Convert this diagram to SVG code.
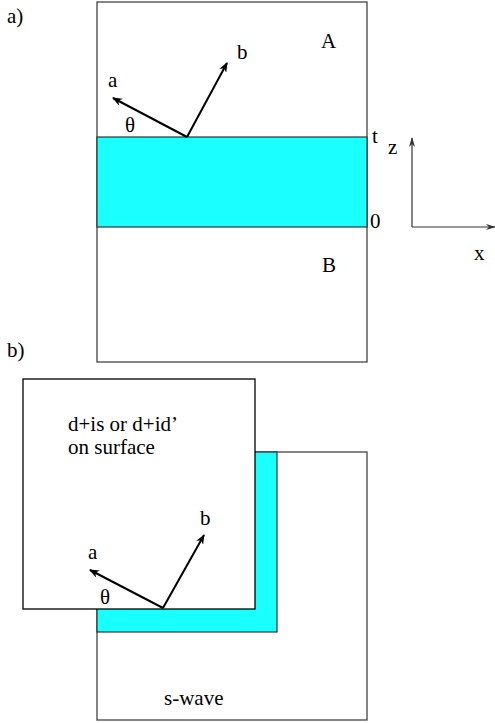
<svg xmlns="http://www.w3.org/2000/svg" width="495" height="723" viewBox="0 0 495 723">
<defs>
<marker id="ah" markerWidth="10" markerHeight="8" refX="9" refY="4" orient="auto" markerUnits="userSpaceOnUse">
<path d="M0,0 L10,4 L0,8 L3,4 z" fill="#000"/>
</marker>
<marker id="ah2" markerWidth="10" markerHeight="8" refX="9" refY="4" orient="auto" markerUnits="userSpaceOnUse">
<path d="M0,1 L10,4 L0,7 L3,4 z" fill="#333"/>
</marker>
</defs>
<g font-family="'Liberation Serif', 'Nimbus Roman', 'Nimbus Roman No9 L', FreeSerif, Times, 'Noto Serif', 'DejaVu Serif', serif" font-size="21" fill="#000">
<text x="7" y="23">a)</text>
<text x="7" y="357">b)</text>
<g id="panelA">
<rect x="97" y="2" width="270" height="360" fill="#fff" stroke="#444" stroke-width="1.3"/>
<rect x="97" y="137" width="270" height="90" fill="#1affff" stroke="#333" stroke-width="1.2"/>
<text x="321" y="48">A</text>
<text x="322" y="272">B</text>
<text x="372" y="143">t</text>
<text x="370" y="228">0</text>
<text x="108" y="87">a</text>
<text x="237" y="59">b</text>
<text x="125" y="132">θ</text>
</g>
<g id="axes">
<text x="388" y="154">z</text>
<text x="474" y="260">x</text>
</g>
<g id="panelB">
<rect x="97" y="452" width="270" height="268" fill="#fff" stroke="#444" stroke-width="1.3"/>
<rect x="97" y="452" width="180" height="180" fill="#1affff" stroke="#333" stroke-width="1.2"/>
<rect x="23" y="379" width="232" height="230" fill="#fff" stroke="#000" stroke-width="1.3"/>
<text x="68" y="431">d+is or d+id’</text>
<text x="68" y="454">on surface</text>
<text x="88" y="559">a</text>
<text x="200" y="525">b</text>
<text x="100" y="604">θ</text>
<text x="164" y="705">s-wave</text>
</g>
</g>
<g id="connectors" fill="none">
<line x1="187" y1="137" x2="113" y2="98" stroke="#000" stroke-width="2" marker-end="url(#ah)"/>
<line x1="187" y1="137" x2="227" y2="63" stroke="#000" stroke-width="2" marker-end="url(#ah)"/>
<line x1="412" y1="227" x2="412" y2="138" stroke="#333" stroke-width="1.2" marker-end="url(#ah2)"/>
<line x1="412" y1="227" x2="495" y2="227" stroke="#333" stroke-width="1.2" marker-end="url(#ah2)"/>
<line x1="163" y1="608" x2="90" y2="570" stroke="#000" stroke-width="2" marker-end="url(#ah)"/>
<line x1="163" y1="608" x2="204" y2="535" stroke="#000" stroke-width="2" marker-end="url(#ah)"/>
</g>
</svg>
